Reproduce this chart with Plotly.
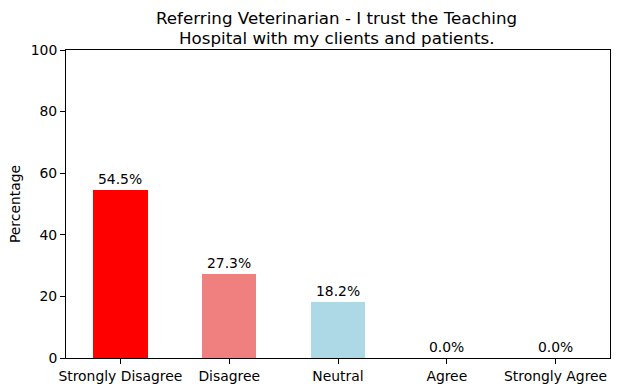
import plotly.graph_objects as go

categories = ["Strongly Disagree", "Disagree", "Neutral", "Agree", "Strongly Agree"]
values = [54.5, 27.3, 18.2, 0.0, 0.0]
colors = ["#FF0000", "#F08080", "#ADD8E6", "#90EE90", "#008000"]
labels = [f"{v:.1f}%" for v in values]
yticks = [0, 20, 40, 60, 80, 100]
title_lines = ["Referring Veterinarian - I trust the Teaching",
               "Hospital with my clients and patients."]

fig = go.Figure(go.Bar(
    x=list(range(len(categories))), y=values, width=0.5,
    marker=dict(color=colors, line=dict(width=0)),
))

for i, (v, t) in enumerate(zip(values, labels)):
    fig.add_annotation(x=i, y=v, text=t, showarrow=False, yanchor="bottom",
                       yshift=1, font=dict(size=13.9, color="black"))

font = "DejaVu Sans"
for line, shift in zip(title_lines, [32, 12]):
    fig.add_annotation(x=0.5, y=1, xref="paper", yref="paper", text=line, showarrow=False,
                       xanchor="center", yanchor="middle", yshift=shift, xshift=-2,
                       font=dict(size=16.7, family=font, color="black"))

fig.update_layout(
    width=618, height=392,
    margin=dict(l=66, r=8, t=50, b=34),
    paper_bgcolor="white", plot_bgcolor="white",
    font=dict(family=font, size=13.9, color="black"),
    showlegend=False,
    bargap=0,
)
fig.update_xaxes(range=[-0.5, 4.5], tickvals=list(range(len(categories))), ticktext=categories,
                 showline=True, linecolor="black", linewidth=1, mirror=True,
                 ticks="outside", ticklen=5, tickcolor="black", showgrid=False, zeroline=False,
                 tickfont=dict(size=13.9))
fig.update_yaxes(range=[0, 100], tickvals=yticks, ticktext=[str(t) for t in yticks],
                 showline=True, linecolor="black", linewidth=1, mirror=True,
                 ticks="outside", ticklen=5, tickcolor="black", showgrid=False, zeroline=False,
                 title=dict(text="Percentage", standoff=6, font=dict(size=13.9)),
                 tickfont=dict(size=13.9))

fig.write_html("out.html", config={"displayModeBar": False},
               post_script="document.body.style.margin='0';document.body.style.overflow='hidden';")
